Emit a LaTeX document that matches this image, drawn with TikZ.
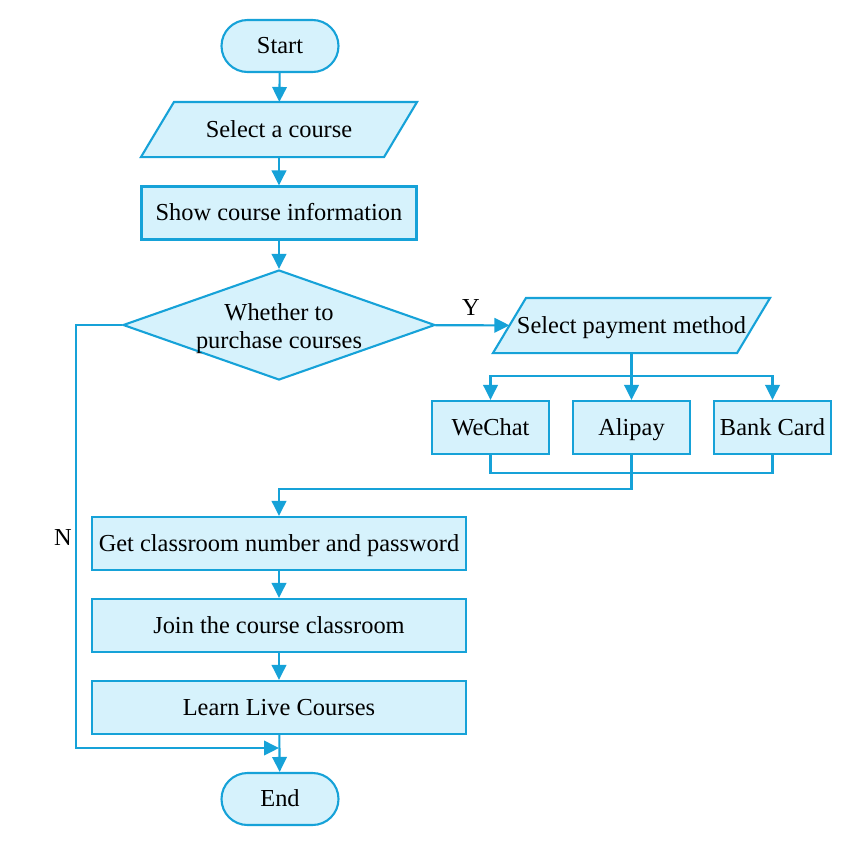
\documentclass[tikz,border=0pt]{standalone}
\usepackage{fontspec}
\setmainfont{Liberation Serif}
\usetikzlibrary{shapes.geometric,arrows.meta,backgrounds}
\definecolor{fc}{RGB}{214,242,252}
\definecolor{lc}{RGB}{22,162,216}
\tikzset{
  base/.style={draw=lc,fill=fc,line width=2.1pt,font=\fontsize{24.4}{28}\selectfont,inner sep=0pt,align=center},
  one/.style={text height=17.5pt,text depth=2.5pt},
  term/.style={base,one,rectangle,rounded corners=26pt,minimum width=117pt,minimum height=52pt},
  proc/.style={base,one,rectangle,minimum height=53pt},
  io/.style={base,one,draw=none,fill=none,rectangle,minimum height=53pt},
  pshape/.style={draw=lc,fill=fc,line width=2.1pt,line join=miter},
  dec/.style={base,diamond,aspect=2.84,minimum width=312pt,minimum height=110pt},
  arr/.style={draw=lc,line width=2.1pt,-{Triangle[length=15pt,width=14.5pt]}},
  ln/.style={draw=lc,line width=2.1pt},
  lbl/.style={font=\fontsize{24.4}{28}\selectfont,align=center}
}
\begin{document}
\begin{tikzpicture}[x=1pt,y=-1pt]
\useasboundingbox (0,0) rectangle (850,844);
\node[term] (start) at (280,46) {Start};
\node[io,minimum width=241pt] (course) at (279,129.5) {Select a course};
\node[proc,minimum width=275pt] (info) at (279,213) {Show course information};
\node[dec] (dec) at (279,325) {};
\node[lbl] (dectext) at (279,329) {Whether to\\purchase courses};
\node[io,minimum width=242pt] (pay) at (631.5,325.5) {Select payment method};
\node[proc,minimum width=117pt] (wechat) at (490.5,427.5) {WeChat};
\node[proc,minimum width=117pt] (alipay) at (631.5,427.5) {Alipay};
\node[proc,minimum width=117pt] (bank) at (772.5,427.5) {Bank Card};
\node[proc,minimum width=374pt] (get) at (279,543.5) {Get classroom number and password};
\node[proc,minimum width=374pt] (join) at (279,625.5) {Join the course classroom};
\node[proc,minimum width=374pt] (learn) at (279,707.5) {Learn Live Courses};
\node[term] (end) at (280,799) {End};
\begin{scope}[on background layer]
\foreach \p in {course,pay}{
  \draw[pshape] ([xshift=-16.5pt]\p.south west) -- ([xshift=16.5pt]\p.north west) -- ([xshift=16.5pt]\p.north east) -- ([xshift=-16.5pt]\p.south east) -- cycle;
}
\end{scope}
\coordinate (sp) at (631.5,376);
\coordinate (jn) at (631.5,473);
\coordinate (lk) at (631.5,489);
\coordinate (nA) at (76,325);
\coordinate (nB) at (76,748);
\coordinate (nC) at (279,748);
\draw[arr] (start) -- (course);
\draw[arr] (course) -- (info);
\draw[arr] (info) -- (dec);
\draw[arr] (dec) -- (pay);
\node[lbl] (y) at (471,308) {Y};
\draw[ln] (pay.south) -- (sp);
\draw[arr] (sp) -| (wechat);
\draw[arr] (sp) -- (alipay);
\draw[arr] (sp) -| (bank);
\draw[ln] (wechat) |- (jn);
\draw[ln] (bank) |- (jn);
\draw[arr] (alipay) -- (lk) -| (get);
\draw[arr] (get) -- (join);
\draw[arr] (join) -- (learn);
\draw[arr] (learn) -- (end);
\draw[arr] (dec.west) -- (nA) -- (nB) -- (nC);
\node[lbl] (n) at (63,537) {N};
\end{tikzpicture}
\end{document}
